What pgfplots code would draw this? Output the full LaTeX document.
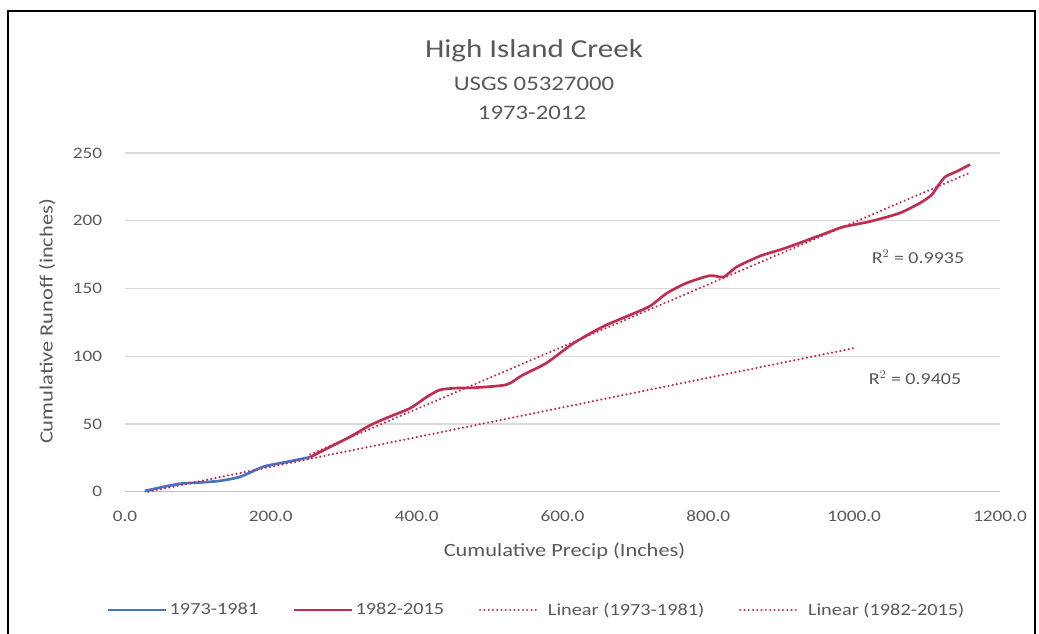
\documentclass[border=0pt]{standalone}
\usepackage{pgfplots}
\pgfplotsset{compat=1.18}
\usepackage{fontspec}
\setmainfont{Carlito}[FakeStretch=1.2]

\definecolor{txt}{HTML}{595959}
\definecolor{gridc}{HTML}{D9D9D9}
\definecolor{axisc}{HTML}{BFBFBF}
\definecolor{serA}{HTML}{4472C4}
\definecolor{serB}{HTML}{C02D50}

\begin{document}
\begin{tikzpicture}
\useasboundingbox (0pt,0pt) rectangle (779.25pt,474.75pt);
\fill[white] (0pt,0pt) rectangle (779.25pt,474.75pt);
% chart frame (runs past the bottom edge)
\draw[black, line width=1.4pt] (6pt,-20pt) rectangle (776.25pt,466.5pt);

\begin{axis}[
  at={(93.75pt,105.975pt)}, anchor=south west,
  scale only axis, width=656.25pt, height=254pt,
  xmin=0, xmax=1200, ymin=0, ymax=250,
  xtick={0,200,...,1200}, ytick={0,50,...,250},
  separate axis lines,
  axis x line*=bottom, axis y line*=left,
  x axis line style={draw=axisc, line width=0.9pt},
  y axis line style={draw=none},
  major tick length=0pt,
  ymajorgrids, grid style={draw=gridc, line width=0.9pt},
  /pgf/number format/assume math mode=true,
  tick label style={font=\fontsize{12}{14}\selectfont, text=txt},
  xticklabel style={anchor=center, inner sep=0pt, yshift=-18.5pt,
    /pgf/number format/.cd, fixed, fixed zerofill, precision=1, 1000 sep={}},
  yticklabel style={anchor=east, inner sep=0pt, xshift=-17pt},
  xlabel={Cumulative Precip (Inches)},
  ylabel={Cumulative Runoff (inches)},
  label style={font=\fontsize{14}{16}\selectfont, text=txt},
  xlabel style={at={(axis description cs:0.5023,-0.175)}, anchor=center},
  ylabel style={at={(axis description cs:-0.0891,0.5025)}, anchor=center},
  legend style={at={(axis description cs:0.4709,-0.3493)}, anchor=center,
    draw=none, fill=none, inner sep=0pt, legend columns=4,
    font=\fontsize{12.7}{15}\selectfont, text=txt,
    /tikz/every even column/.append style={column sep=24pt}},
  legend cell align=left,
  legend image code/.code={\draw[#1] (0pt,0pt) -- (43pt,0pt);},
  trend/.style={serB, line width=1.8pt, line cap=round, dash pattern=on 0.01pt off 3.2pt},
  clip=false,
]
% 1973-1981
\addplot[serA, line width=2pt, smooth, tension=0.4] coordinates {
  (27,0.5) (52,3.5) (77,6.0) (103,6.8) (130,8.0) (158,11.0)
  (190,18.5) (222,22.0) (254,25.5)
};
\addlegendentry{1973-1981}
% 1982-2015
\addplot[serB, line width=2pt, smooth, tension=0.4] coordinates {
  (254,25.5) (281,33.0) (309,40.6) (336,49.0) (363,55.4) (391,61.6)
  (414,70.0) (432,75.2) (455,76.5) (480,76.8) (523,79.0) (545,86.0)
  (578,95.0) (615,109.6) (656,122.0) (693,130.5) (720,137.0) (743,146.5)
  (770,154.0) (802,159.5) (821,158.5) (839,166.0) (871,174.0) (898,178.5)
  (917,182.0) (962,191.0) (985,195.5) (1022,199.5) (1062,205.6) (1090,213.0)
  (1106,219.0) (1116,226.5) (1125,232.5) (1141,236.5) (1159,241.5)
};
\addlegendentry{1982-2015}
% linear trend lines
\addplot[trend] coordinates {(32,0.0) (1000,106.0)};
\addlegendentry{\hspace{5pt}Linear (1973-1981)}
\addplot[trend] coordinates {(254,27.5) (1159,235.5)};
\addlegendentry{\hspace{5pt}Linear (1982-2015)}
\end{axis}

% titles
\node[text=txt, font=\fontsize{19.4}{22}\selectfont] at (400.5pt,436.5pt) {High Island Creek};
\node[text=txt, font=\fontsize{15.5}{18}\selectfont] at (400.5pt,411.75pt) {USGS 05327000};
\node[text=txt, font=\fontsize{15.5}{18}\selectfont] at (399pt,390pt) {1973-2012};
% coefficients of determination
\node[text=txt, font=\fontsize{12.5}{15}\selectfont] at (688.5pt,282pt) {R$^{2}$ = 0.9935};
\node[text=txt, font=\fontsize{12.5}{15}\selectfont] at (686.25pt,191.25pt) {R$^{2}$ = 0.9405};
\end{tikzpicture}
\end{document}
